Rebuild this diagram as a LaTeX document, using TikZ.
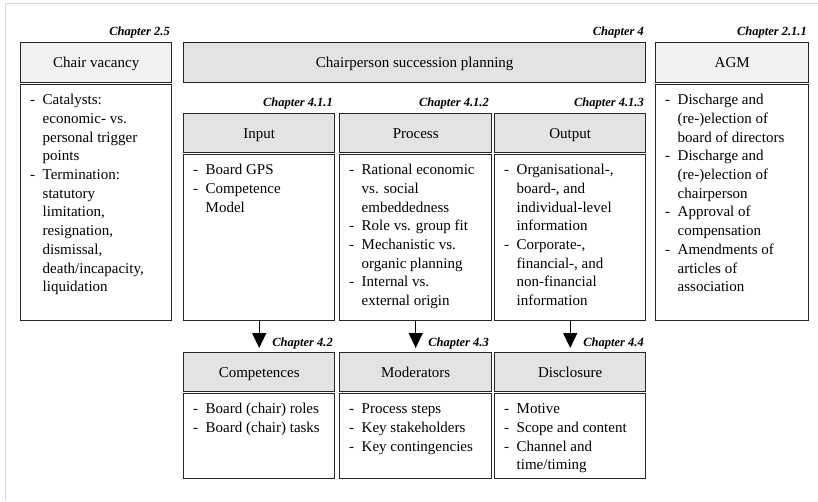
\documentclass[tikz,border=0pt]{standalone}
\usepackage{fontspec}
\setmainfont{Liberation Serif}
\usetikzlibrary{arrows.meta}

% list helpers: a dash item and an indented continuation line
\newcommand{\lidash}{\makebox[12.5pt][l]{-}}
\newcommand{\liindent}{\hspace*{12.5pt}}
\newcommand{\firstline}{\rule{0pt}{12pt}}

\begin{document}
\begin{tikzpicture}[x=1pt,y=-1pt,
  box/.style={draw=black!85, line width=1.4pt, inner sep=0pt, anchor=north west,
              font=\fontsize{15}{18}\selectfont, text height=15pt, text depth=3.5pt},
  hdr/.style={box, fill=gray!22, minimum height=40pt},
  hdrlight/.style={box, fill=gray!11, minimum height=40pt},
  body/.style={box, fill=white},
  chap/.style={anchor=base east, inner sep=0pt,
               font=\fontsize{12.5}{14}\selectfont\bfseries\itshape},
  txt/.style={anchor=north west, inner sep=0pt, align=left,
              font=\fontsize{15}{18.7}\selectfont},
  flow/.style={line width=1.3pt, -{Triangle[width=14pt,length=15pt]}, shorten >=4pt}
]
\useasboundingbox (0,0) rectangle (818,501);

% page frame
\draw[gray!30, line width=1.6pt] (5.5,501) -- (5.5,3.5) -- (818,3.5);

% ---- top row -------------------------------------------------------
\node[hdrlight, minimum width=151pt] (cvh) at (20,41.5) {Chair vacancy};
\node[body, minimum width=151pt, minimum height=236pt] (cvb) at (20,84) {};
\node[chap] (cvc) at (170,35) {Chapter 2.5};

\node[hdr, minimum width=462pt] (csph) at (183,41.5) {Chairperson succession planning};
\node[chap] (cspc) at (644,35) {Chapter 4};

\node[hdrlight, minimum width=153pt] (agmh) at (655,41.5) {AGM};
\node[body, minimum width=153pt, minimum height=236pt] (agmb) at (655,84) {};
\node[chap] (agmc) at (807,35) {Chapter 2.1.1};

% ---- middle row ----------------------------------------------------
\node[hdr, minimum width=151pt, minimum height=39pt] (inh) at (183,112.5) {Input};
\node[hdr, minimum width=152pt, minimum height=39pt] (prh) at (339,112.5) {Process};
\node[hdr, minimum width=151pt, minimum height=39pt] (outh) at (494,112.5) {Output};
\node[chap] (inc) at (333,106.5) {Chapter 4.1.1};
\node[chap] (prc) at (489,106.5) {Chapter 4.1.2};
\node[chap] (outc) at (644,106.5) {Chapter 4.1.3};

\node[body, minimum width=151pt, minimum height=166pt] (inb) at (183,154) {};
\node[body, minimum width=152pt, minimum height=166pt] (prb) at (339,154) {};
\node[body, minimum width=151pt, minimum height=166pt] (outb) at (494,154) {};

% ---- bottom row ----------------------------------------------------
\node[hdr, minimum width=151pt, minimum height=39pt] (comh) at (183,352) {Competences};
\node[hdr, minimum width=152pt, minimum height=39pt] (modh) at (339,352) {Moderators};
\node[hdr, minimum width=151pt, minimum height=39pt] (disch) at (494,352) {Disclosure};
\node[chap] (comc) at (333,346.5) {Chapter 4.2};
\node[chap] (modc) at (489,346.5) {Chapter 4.3};
\node[chap] (discc) at (644,346.5) {Chapter 4.4};

\node[body, minimum width=151pt, minimum height=85pt] (comb) at (183,393) {};
\node[body, minimum width=152pt, minimum height=85pt] (modb) at (339,393) {};
\node[body, minimum width=151pt, minimum height=85pt] (discb) at (494,393) {};

% ---- arrows --------------------------------------------------------
\draw[flow] (inb.south) -- (comh.north);
\draw[flow] (prb.south) -- (modh.north);
\draw[flow] (outb.south) -- (disch.north);

% ---- list texts ----------------------------------------------------
\node[txt] (cvt) at (30,92.5) {\firstline\lidash Catalysts:\\
  \liindent economic- vs.\\
  \liindent personal trigger\\
  \liindent points\\
  \lidash Termination:\\
  \liindent statutory\\
  \liindent limitation,\\
  \liindent resignation,\\
  \liindent dismissal,\\
  \liindent death/incapacity,\\
  \liindent liquidation};

\node[txt] (agmt) at (665,92.5) {\firstline\lidash Discharge and\\
  \liindent (re-)election of\\
  \liindent board of directors\\
  \lidash Discharge and\\
  \liindent (re-)election of\\
  \liindent chairperson\\
  \lidash Approval of\\
  \liindent compensation\\
  \lidash Amendments of\\
  \liindent articles of\\
  \liindent association};

\node[txt] (int) at (193,162.5) {\firstline\lidash Board GPS\\
  \lidash Competence\\
  \liindent Model};

\node[txt] (prt) at (349,162.5) {\firstline\lidash Rational economic\\
  \liindent vs. social\\
  \liindent embeddedness\\
  \lidash Role vs. group fit\\
  \lidash Mechanistic vs.\\
  \liindent organic planning\\
  \lidash Internal vs.\\
  \liindent external origin};

\node[txt] (outt) at (504,162.5) {\firstline\lidash Organisational-,\\
  \liindent board-, and\\
  \liindent individual-level\\
  \liindent information\\
  \lidash Corporate-,\\
  \liindent financial-, and\\
  \liindent non-financial\\
  \liindent information};

\node[txt] (comt) at (193,401.5) {\firstline\lidash Board (chair) roles\\
  \lidash Board (chair) tasks};

\node[txt] (modt) at (349,401.5) {\firstline\lidash Process steps\\
  \lidash Key stakeholders\\
  \lidash Key contingencies};

\node[txt] (disct) at (504,401.5) {\firstline\lidash Motive\\
  \lidash Scope and content\\
  \lidash Channel and\\
  \liindent time/timing};
\end{tikzpicture}
\end{document}
